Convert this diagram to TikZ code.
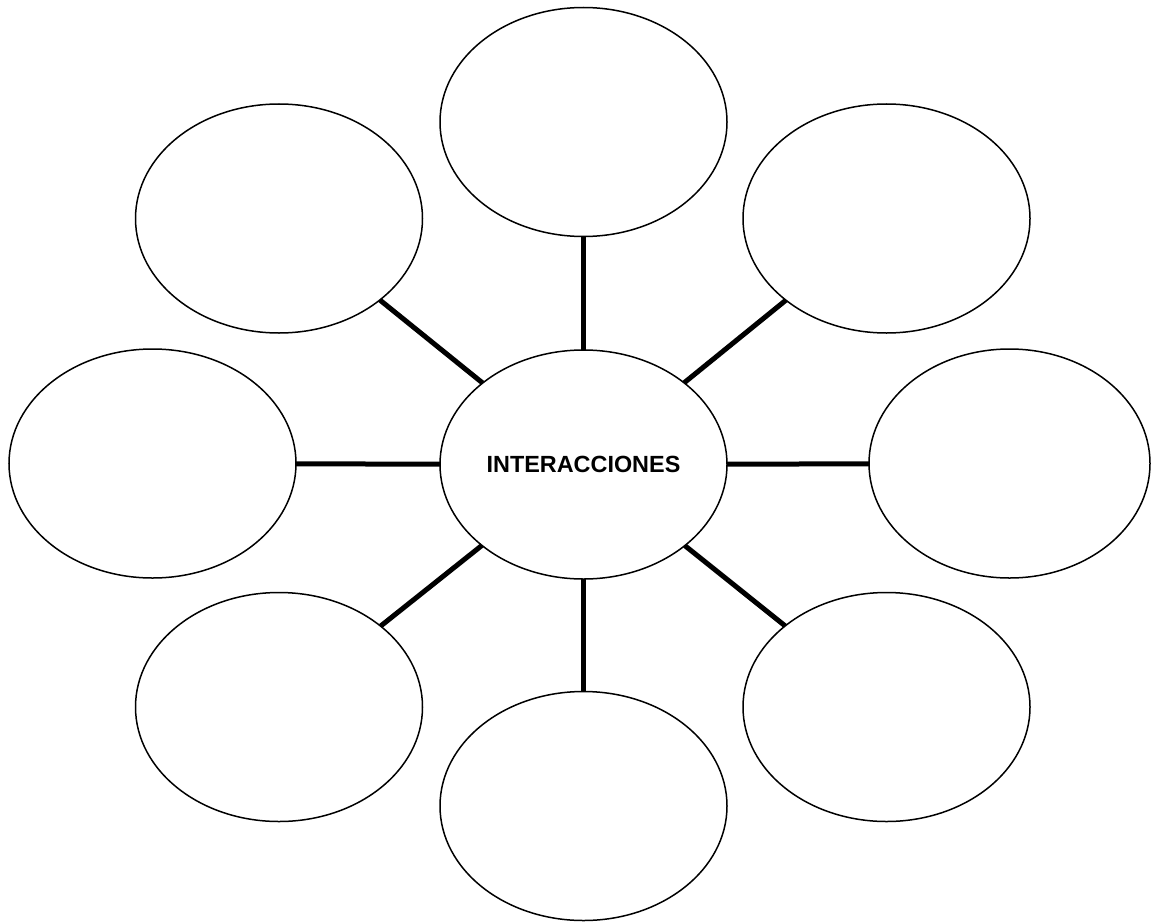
\documentclass[tikz,border=0pt]{standalone}
\usepackage{fontspec}
\setmainfont{Liberation Sans}
\usetikzlibrary{shapes.geometric}
\begin{document}
\begin{tikzpicture}[x=1pt,y=-1pt,
  bubble/.style={ellipse,draw=black,line width=1.5pt,fill=white,inner sep=0pt,outer sep=0pt,minimum width=287pt,minimum height=229pt},
  link/.style={line width=5pt,draw=black}]
\useasboundingbox (0,0) rectangle (1155,923);
\node[bubble] (c) at (583.5,464.5) {\fontsize{23.4}{28}\selectfont\bfseries INTERACCIONES};
\node[bubble] (t) at (583.5,122) {};
\node[bubble] (tl) at (279,218.5) {};
\node[bubble] (tr) at (886.5,218.5) {};
\node[bubble] (l) at (152.5,463.5) {};
\node[bubble,minimum width=281pt] (r) at (1009.5,463.5) {};
\node[bubble] (bl) at (279,707) {};
\node[bubble] (b) at (583.5,806) {};
\node[bubble] (br) at (886.5,707) {};
\foreach \n in {t,tl,tr,l,r,bl,b,br}
  \draw[link] (c) -- (\n);
\end{tikzpicture}
\end{document}
